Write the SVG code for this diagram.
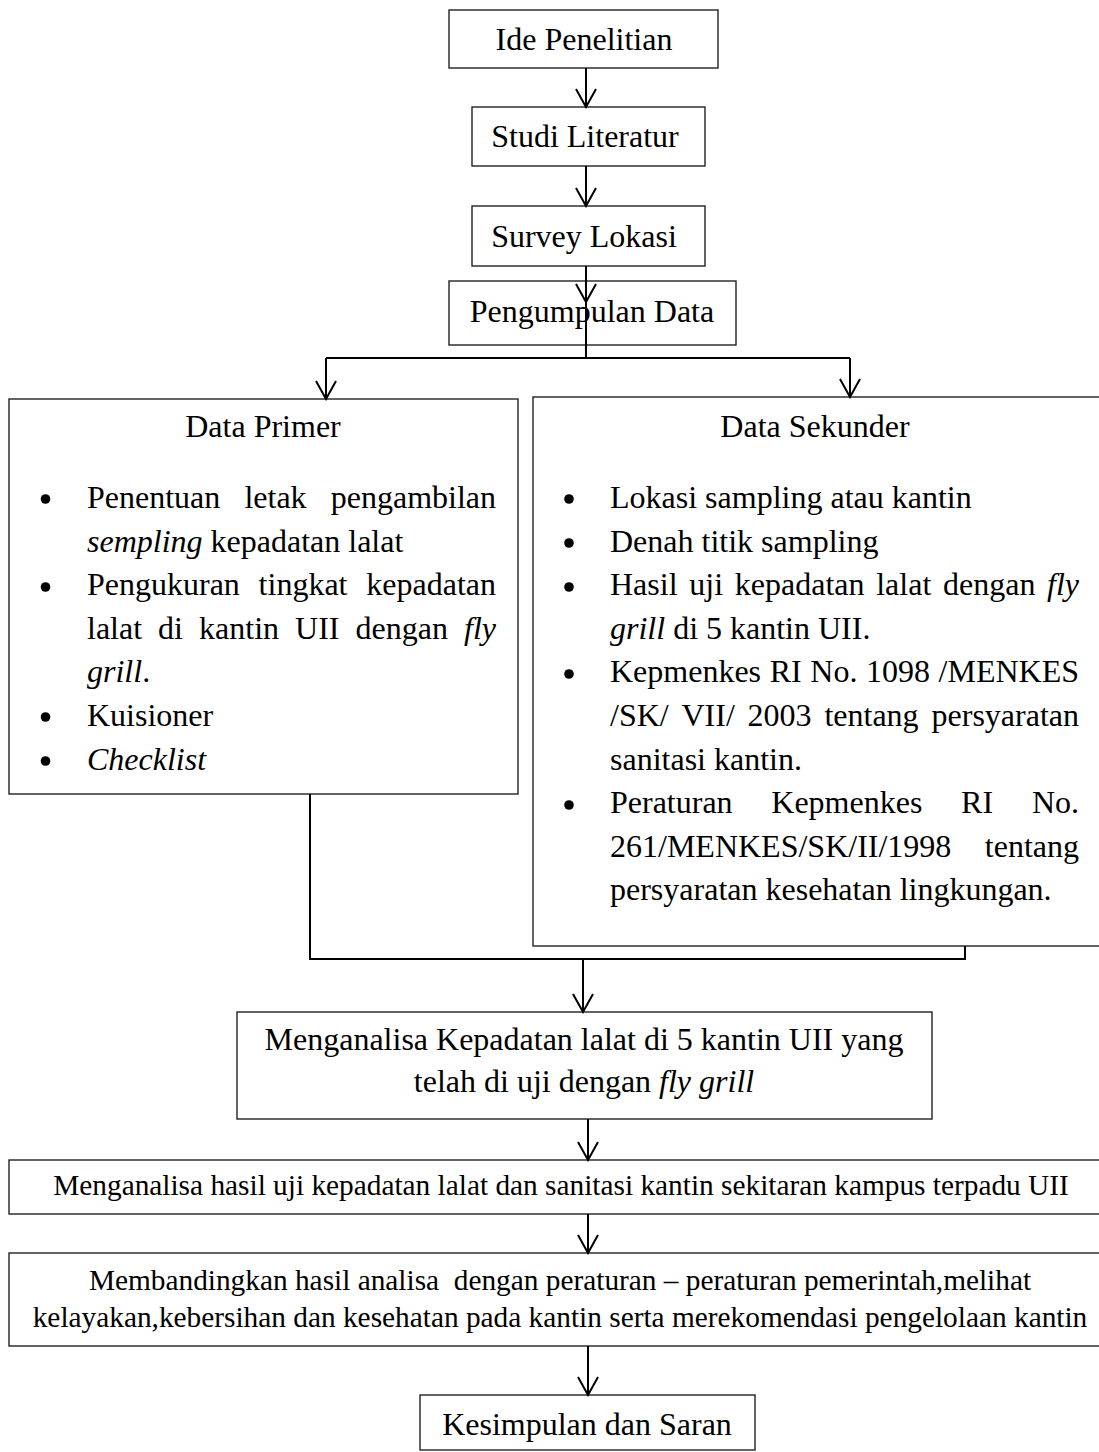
<svg xmlns="http://www.w3.org/2000/svg" width="1099" height="1452" viewBox="0 0 1099 1452">
<style>
.box{fill:#fff;stroke:#222;stroke-width:1.4}
.t{font-family:"Liberation Serif","Times New Roman",serif;font-size:32px;fill:#000}
.s{font-size:29.33px}
.c{text-anchor:middle}
.e{text-anchor:end}
.i{font-style:italic}
.ln{fill:none;stroke:#000;stroke-width:2}
.b{fill:#000}
</style>
<defs>
<marker id="ah" viewBox="-20 -12 22 24" refX="0" refY="0" markerWidth="22" markerHeight="24" markerUnits="userSpaceOnUse" orient="auto">
<path d="M-18,-10 L0,0 L-18,10" fill="none" stroke="#000" stroke-width="2"/>
</marker>
</defs>
<rect width="1099" height="1452" fill="#fff"/>
<g id="n1"><rect class="box" x="449" y="10" width="269" height="58"/><text class="t c" x="584" y="50">Ide Penelitian</text></g>
<g id="n2"><rect class="box" x="472" y="107" width="233" height="59"/><text class="t c" x="585" y="147">Studi Literatur</text></g>
<g id="n3"><rect class="box" x="472" y="206" width="233" height="60"/><text class="t c" x="584" y="247">Survey Lokasi</text></g>
<g id="n4"><rect class="box" x="449" y="281" width="287" height="64"/><text class="t c" x="592" y="322">Pengumpulan Data</text></g>
<g id="n5"><rect class="box" x="9" y="399" width="509" height="395"/>
<text class="t c" x="263" y="437">Data Primer</text>
<circle class="b" cx="45.5" cy="499" r="4.8"/><circle class="b" cx="45.5" cy="587" r="4.8"/><circle class="b" cx="45.5" cy="717" r="4.8"/><circle class="b" cx="45.5" cy="761" r="4.8"/>
<text class="t" y="508"><tspan x="87">Penentuan</tspan><tspan x="244.4">letak</tspan><tspan x="496" class="e">pengambilan</tspan></text>
<text class="t" x="87" y="551.6"><tspan class="i">sempling</tspan> kepadatan lalat</text>
<text class="t" y="595.2"><tspan x="87">Pengukuran</tspan><tspan x="258.6">tingkat</tspan><tspan x="496" class="e">kepadatan</tspan></text>
<text class="t" y="638.8"><tspan x="87">lalat</tspan><tspan x="158.1">di</tspan><tspan x="199.1">kantin</tspan><tspan x="295.1">UII</tspan><tspan x="355.6">dengan</tspan><tspan x="496" class="e i">fly</tspan></text>
<text class="t" x="87" y="682.4"><tspan class="i">grill</tspan>.</text>
<text class="t" x="87" y="726">Kuisioner</text>
<text class="t i" x="87" y="769.6">Checklist</text>
</g>
<g id="n6"><rect class="box" x="533" y="397" width="580" height="549"/>
<text class="t c" x="815" y="437">Data Sekunder</text>
<circle class="b" cx="569" cy="499" r="4.8"/><circle class="b" cx="569" cy="543" r="4.8"/><circle class="b" cx="569" cy="587" r="4.8"/><circle class="b" cx="569" cy="674" r="4.8"/><circle class="b" cx="569" cy="805" r="4.8"/>
<text class="t" x="610" y="508">Lokasi sampling atau kantin</text>
<text class="t" x="610" y="551.6">Denah titik sampling</text>
<text class="t" y="595.2"><tspan x="610">Hasil</tspan><tspan x="689.3">uji</tspan><tspan x="734.8">kepadatan</tspan><tspan x="876.2">lalat</tspan><tspan x="943">dengan</tspan><tspan x="1079" class="e i">fly</tspan></text>
<text class="t" x="610" y="638.8"><tspan class="i">grill</tspan> di 5 kantin UII.</text>
<text class="t" y="682.4"><tspan x="610">Kepmenkes</tspan><tspan x="769.7">RI</tspan><tspan x="810.3">No.</tspan><tspan x="866">1098</tspan><tspan x="1079" class="e">/MENKES</tspan></text>
<text class="t" y="726"><tspan x="610">/SK/</tspan><tspan x="681.5">VII/</tspan><tspan x="747.6">2003</tspan><tspan x="824.4">tentang</tspan><tspan x="1079" class="e">persyaratan</tspan></text>
<text class="t" x="610" y="769.6">sanitasi kantin.</text>
<text class="t" y="813.2"><tspan x="610">Peraturan</tspan><tspan x="771.3">Kepmenkes</tspan><tspan x="961.1">RI</tspan><tspan x="1079" class="e">No.</tspan></text>
<text class="t" y="856.8"><tspan x="610">261/MENKES/SK/II/1998</tspan><tspan x="1079" class="e">tentang</tspan></text>
<text class="t" x="610" y="900.4">persyaratan kesehatan lingkungan.</text>
</g>
<g id="n7"><rect class="box" x="237" y="1012" width="695" height="107"/>
<text class="t c" x="584" y="1050">Menganalisa Kepadatan lalat di 5 kantin UII yang</text>
<text class="t c" x="584" y="1092">telah di uji dengan <tspan class="i">fly grill</tspan></text>
</g>
<g id="n8"><rect class="box" x="9" y="1160" width="1100" height="54"/>
<text class="t s c" x="561" y="1195">Menganalisa hasil uji kepadatan lalat dan sanitasi kantin sekitaran kampus terpadu UII</text>
</g>
<g id="n9"><rect class="box" x="9" y="1253" width="1100" height="93"/>
<text class="t s c" x="560" y="1290" xml:space="preserve">Membandingkan hasil analisa  dengan peraturan – peraturan pemerintah,melihat</text>
<text class="t s c" x="560" y="1327">kelayakan,kebersihan dan kesehatan pada kantin serta merekomendasi pengelolaan kantin</text>
</g>
<g id="n10"><rect class="box" x="420" y="1395" width="335" height="55"/>
<text class="t c" x="587" y="1435">Kesimpulan dan Saran</text>
</g>
<g id="connectors">
<path class="ln" d="M586,68 V107" marker-end="url(#ah)"/>
<path class="ln" d="M586,166 V206" marker-end="url(#ah)"/>
<path class="ln" d="M586,266 V302" marker-end="url(#ah)"/>
<path class="ln" d="M586,302 V358"/>
<path class="ln" d="M326,358 H850"/>
<path class="ln" d="M326,358 V399" marker-end="url(#ah)"/>
<path class="ln" d="M850,358 V397" marker-end="url(#ah)"/>
<path class="ln" d="M310,794 V959 H965 V946"/>
<path class="ln" d="M583,959 V1012" marker-end="url(#ah)"/>
<path class="ln" d="M588,1119 V1160" marker-end="url(#ah)"/>
<path class="ln" d="M588,1214 V1253" marker-end="url(#ah)"/>
<path class="ln" d="M588,1346 V1395" marker-end="url(#ah)"/>
</g>
</svg>
